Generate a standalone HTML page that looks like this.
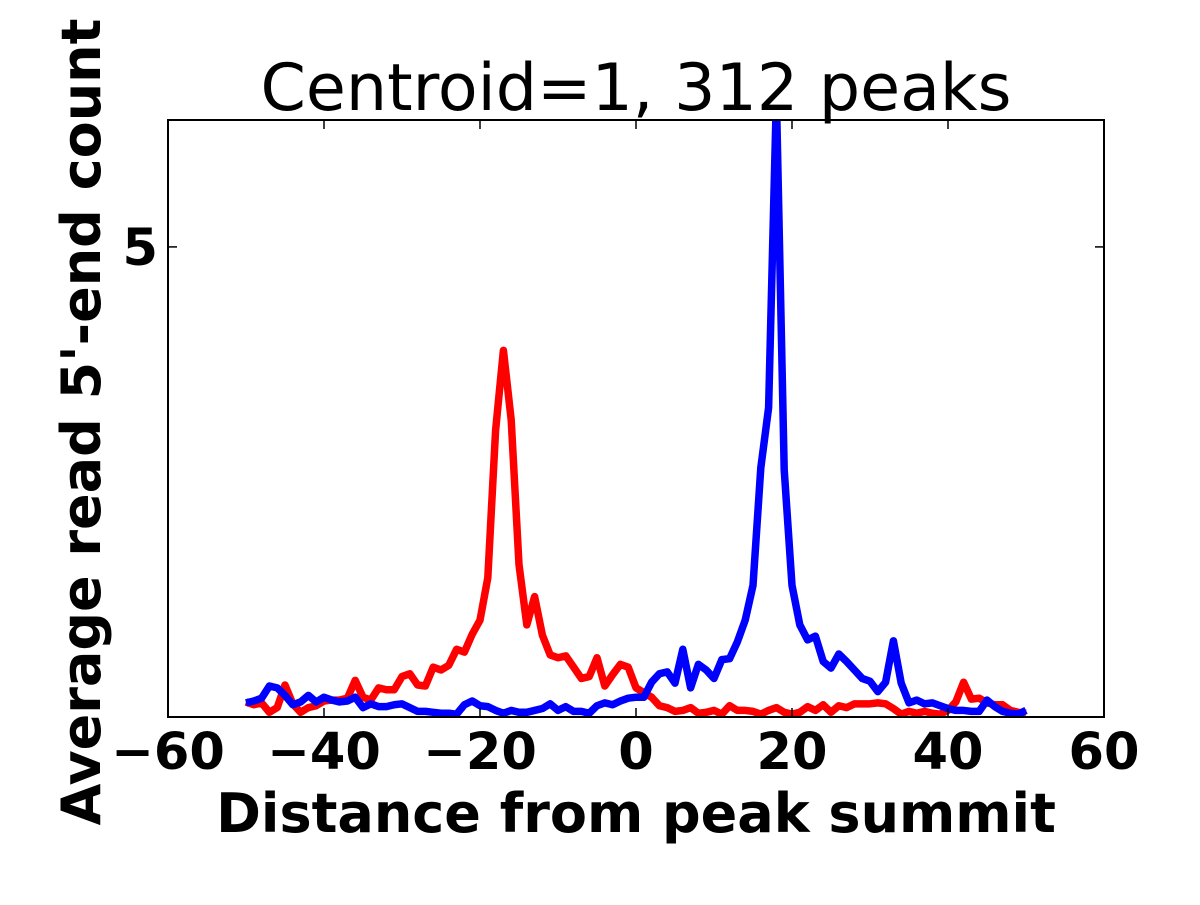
<!DOCTYPE html>
<html><head><meta charset="utf-8"><style>
body{margin:0;background:#fff}
svg text{font-family:"DejaVu Sans","Liberation Sans",sans-serif}
</style></head><body>
<svg id="chart" width="1200" height="900" xmlns="http://www.w3.org/2000/svg">
<rect width="1200" height="900" fill="#fff"/>
<text x="636" y="110" font-size="65" text-anchor="middle">Centroid=1, 312 peaks</text>
<defs><clipPath id="pc"><rect x="168" y="120" width="936" height="597"/></clipPath></defs>
<g id="marks" clip-path="url(#pc)"></g>
<g id="axes"></g>
<text x="636" y="832" font-size="54" font-weight="bold" text-anchor="middle">Distance from peak summit</text>
<text transform="translate(100,422) rotate(-90)" font-size="54" font-weight="bold" text-anchor="middle">Average read 5'-end count</text>
</svg>
<script>
const positions = [];
for (let i = -50; i <= 50; i++) positions.push(i);
const redSeries = [0.16,0.13,0.15,0.05,0.10,0.34,0.14,0.05,0.10,0.12,0.17,0.18,0.18,0.20,0.39,0.21,0.18,0.31,0.29,0.29,0.43,0.46,0.34,0.33,0.53,0.50,0.55,0.72,0.69,0.88,1.03,1.48,3.05,3.90,3.16,1.62,0.98,1.28,0.87,0.66,0.63,0.65,0.53,0.41,0.43,0.63,0.33,0.45,0.56,0.53,0.31,0.26,0.21,0.12,0.10,0.06,0.07,0.10,0.04,0.05,0.07,0.03,0.12,0.07,0.07,0.06,0.03,0.07,0.10,0.05,0.03,0.05,0.11,0.07,0.13,0.05,0.12,0.10,0.14,0.14,0.14,0.15,0.14,0.09,0.03,0.06,0.04,0.06,0.04,0.03,0.07,0.16,0.37,0.19,0.20,0.15,0.13,0.13,0.07,0.05,0.04];
const blueSeries = [0.15,0.17,0.20,0.33,0.31,0.23,0.13,0.16,0.23,0.16,0.21,0.18,0.16,0.17,0.21,0.10,0.14,0.11,0.11,0.13,0.14,0.10,0.06,0.06,0.05,0.04,0.04,0.03,0.13,0.17,0.12,0.11,0.07,0.04,0.07,0.05,0.05,0.07,0.09,0.14,0.07,0.11,0.06,0.06,0.04,0.12,0.15,0.13,0.17,0.20,0.21,0.21,0.37,0.46,0.48,0.36,0.72,0.31,0.56,0.50,0.41,0.61,0.62,0.80,1.03,1.40,2.65,3.29,6.6,2.63,1.40,0.98,0.82,0.86,0.59,0.52,0.67,0.59,0.50,0.41,0.38,0.27,0.37,0.81,0.36,0.15,0.18,0.14,0.15,0.12,0.09,0.07,0.07,0.06,0.06,0.18,0.11,0.06,0.04,0.03,0.07];
const xTicks = [-60,-40,-20,0,20,40,60];
const xTickLabels = ["\u221260","\u221240","\u221220","0","20","40","60"];
const yTicks = [5];
const yTickLabels = ["5"];
const X0=168,X1=1104,Y0=120,Y1=717,xMin=-60,xMax=60,yMin=0,yMax=6.35;
const sx=v=>X0+(v-xMin)/(xMax-xMin)*(X1-X0);
const sy=v=>Y1-(v-yMin)/(yMax-yMin)*(Y1-Y0);
const NS="http://www.w3.org/2000/svg";
const marks=document.getElementById('marks'), axes=document.getElementById('axes');
function line(vals,color,name){
  const p=document.createElementNS(NS,'polyline');
  p.setAttribute('points',vals.map((v,i)=>sx(positions[i])+','+sy(v)).join(' '));
  p.setAttribute('fill','none');p.setAttribute('stroke',color);p.setAttribute('stroke-width','7.5');p.setAttribute('stroke-linejoin','round');
  
  
  marks.appendChild(p);
}
line(redSeries,'#ff0000','red-series-line');
line(blueSeries,'#0000ff','blue-series-line');
const frame=document.createElementNS(NS,'rect');
frame.setAttribute('x',X0);frame.setAttribute('y',Y0);frame.setAttribute('width',X1-X0);frame.setAttribute('height',Y1-Y0);
frame.setAttribute('fill','none');frame.setAttribute('stroke','#000');frame.setAttribute('stroke-width','2');


axes.appendChild(frame);
function seg(x1,y1,x2,y2){const l=document.createElementNS(NS,'line');l.setAttribute('x1',x1);l.setAttribute('y1',y1);l.setAttribute('x2',x2);l.setAttribute('y2',y2);l.setAttribute('stroke','#000');l.setAttribute('stroke-width','1.5');


axes.appendChild(l);}
xTicks.forEach((t,i)=>{const x=sx(t);seg(x,Y1,x,Y1-9);seg(x,Y0,x,Y0+9);
  const tx=document.createElementNS(NS,'text');tx.setAttribute('x',x);tx.setAttribute('y',Y1+52);tx.setAttribute('font-size','51');tx.setAttribute('font-weight','bold');tx.setAttribute('text-anchor','middle');tx.textContent=xTickLabels[i];
  
  
  axes.appendChild(tx);});
yTicks.forEach((t,i)=>{const y=sy(t);seg(X0,y,X0+9,y);seg(X1,y,X1-9,y);
  const tx=document.createElementNS(NS,'text');tx.setAttribute('x',X0-10);tx.setAttribute('y',y+18);tx.setAttribute('font-size','51');tx.setAttribute('font-weight','bold');tx.setAttribute('text-anchor','end');tx.textContent=yTickLabels[i];
  
  
  axes.appendChild(tx);});
</script>
</body></html>
